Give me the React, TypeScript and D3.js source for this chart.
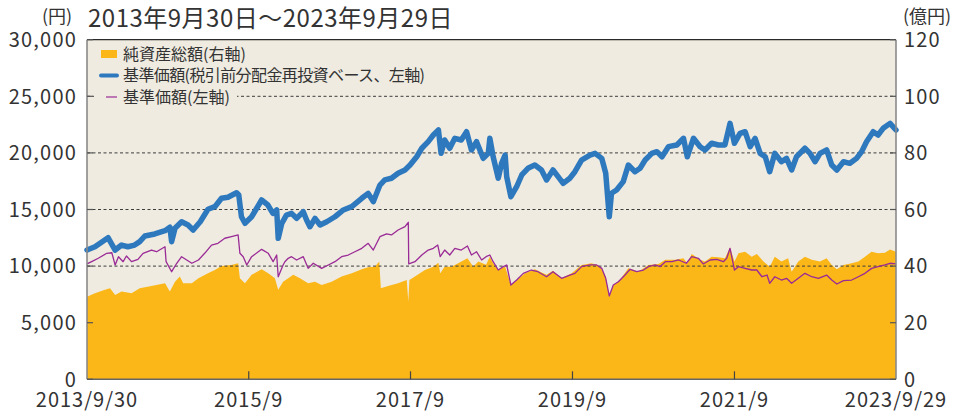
import React from "react";
import * as d3 from "d3";

// ---- Data ----
const titleText = "2013年9月30日～2023年9月29日";
const leftUnit = "(円)";
const rightUnit = "(億円)";
const legendLabels = ["純資産総額(右軸)", "基準価額(税引前分配金再投資ベース、左軸)", "基準価額(左軸)"];

const leftTicks = [0, 5000, 10000, 15000, 20000, 25000, 30000];
const rightTicks = [0, 20, 40, 60, 80, 100, 120];
const gridValues = [10000, 15000, 20000, 25000];
const xTickDates = ["2013-09-30", "2015-09-30", "2017-09-29", "2019-09-30", "2021-09-30", "2023-09-29"];
const xTickLabels = ["2013/9/30", "2015/9", "2017/9", "2019/9", "2021/9", "2023/9/29"];

// 基準価額(税引前分配金再投資ベース) — yen
const reinvestedNav: [string, number][] = [
  ["2013-09-30", 11420], ["2013-11-05", 11710], ["2014-01-03", 12510], ["2014-02-04", 11420],
  ["2014-03-05", 11860], ["2014-04-02", 11710], ["2014-05-03", 11860], ["2014-05-26", 12160],
  ["2014-06-18", 12660], ["2014-08-02", 12840], ["2014-09-17", 13130], ["2014-10-09", 13430],
  ["2014-10-17", 12160], ["2014-11-01", 13340], ["2014-12-01", 13920], ["2014-12-30", 13630],
  ["2015-01-22", 13190], ["2015-02-23", 13920], ["2015-03-30", 15020], ["2015-04-30", 15250],
  ["2015-05-30", 15990], ["2015-06-28", 16080], ["2015-08-06", 16480], ["2015-08-16", 16280],
  ["2015-08-28", 14360], ["2015-09-13", 13780], ["2015-10-13", 14360], ["2015-11-27", 15840],
  ["2015-12-25", 15400], ["2016-01-17", 14660], ["2016-02-03", 14960], ["2016-02-10", 12460],
  ["2016-02-26", 13780], ["2016-03-18", 14510], ["2016-04-10", 14660], ["2016-05-03", 14220],
  ["2016-06-02", 14810], ["2016-06-17", 14070], ["2016-07-02", 13480], ["2016-07-25", 14220],
  ["2016-08-17", 13630], ["2016-09-16", 13920], ["2016-10-23", 14360], ["2016-11-30", 14960],
  ["2017-01-07", 15250], ["2017-02-21", 15990], ["2017-03-22", 16430], ["2017-04-14", 15690],
  ["2017-05-14", 17160], ["2017-06-05", 17610], ["2017-07-05", 17760], ["2017-08-04", 18200],
  ["2017-09-04", 18490], ["2017-09-27", 18930], ["2017-10-27", 19660], ["2017-11-19", 20410],
  ["2017-12-18", 20990], ["2018-01-10", 21580], ["2018-02-02", 22020], ["2018-02-14", 19960],
  ["2018-03-02", 21140], ["2018-03-25", 20410], ["2018-04-17", 21290], ["2018-05-16", 21140],
  ["2018-06-09", 21870], ["2018-07-01", 20260], ["2018-07-24", 20990], ["2018-08-23", 19520],
  ["2018-09-15", 19960], ["2018-09-22", 21290], ["2018-10-07", 19660], ["2018-10-30", 17760],
  ["2018-11-14", 19080], ["2018-11-30", 19810], ["2018-12-07", 17900], ["2018-12-26", 16130],
  ["2019-01-21", 17010], ["2019-02-13", 18050], ["2019-03-13", 18640], ["2019-04-13", 18930],
  ["2019-05-13", 18490], ["2019-06-05", 17610], ["2019-07-04", 18490], ["2019-07-27", 17900],
  ["2019-08-19", 17310], ["2019-09-18", 17760], ["2019-10-11", 18340], ["2019-11-10", 19370],
  ["2019-12-18", 19810], ["2020-01-10", 19960], ["2020-02-09", 19520], ["2020-02-27", 18200],
  ["2020-03-14", 14360], ["2020-03-24", 16430], ["2020-04-16", 16720], ["2020-05-16", 17460],
  ["2020-06-08", 18930], ["2020-07-08", 18340], ["2020-07-31", 18640], ["2020-08-23", 19370],
  ["2020-09-22", 19960], ["2020-10-15", 20110], ["2020-11-07", 19660], ["2020-12-06", 20550],
  ["2021-01-13", 20700], ["2021-02-12", 21290], ["2021-03-01", 19660], ["2021-03-29", 21290],
  ["2021-04-28", 20550], ["2021-05-20", 20260], ["2021-06-19", 20850], ["2021-07-19", 20700],
  ["2021-08-18", 20700], ["2021-09-10", 22610], ["2021-09-30", 20850], ["2021-10-25", 21730],
  ["2021-11-17", 21870], ["2021-12-10", 20550], ["2022-01-01", 21290], ["2022-01-24", 19960],
  ["2022-02-16", 19660], ["2022-03-08", 18340], ["2022-03-31", 19960], ["2022-04-30", 19220],
  ["2022-05-23", 19520], ["2022-06-15", 18490], ["2022-07-07", 19660], ["2022-08-14", 20410],
  ["2022-09-06", 19960], ["2022-09-29", 19220], ["2022-10-21", 19960], ["2022-11-20", 20260],
  ["2022-12-13", 18930], ["2023-01-05", 18490], ["2023-02-04", 19220], ["2023-03-05", 19080],
  ["2023-04-04", 19520], ["2023-04-27", 20110], ["2023-05-19", 20990], ["2023-06-18", 21870],
  ["2023-07-10", 21580], ["2023-08-02", 22170], ["2023-09-02", 22610], ["2023-09-29", 22020],
];

// 基準価額 — yen
const nav: [string, number][] = [
  ["2013-09-30", 10190], ["2013-10-21", 10390], ["2013-11-20", 10690], ["2013-12-28", 11130],
  ["2014-01-20", 11180], ["2014-02-04", 10100], ["2014-02-19", 10830], ["2014-03-12", 10390],
  ["2014-03-27", 10890], ["2014-04-19", 10390], ["2014-05-18", 10600], ["2014-06-10", 11130],
  ["2014-07-18", 11420], ["2014-08-10", 11270], ["2014-09-17", 11710], ["2014-09-22", 10390],
  ["2014-10-17", 9505], ["2014-11-09", 10250], ["2014-12-01", 10830], ["2014-12-24", 10540],
  ["2015-01-16", 10250], ["2015-02-15", 10540], ["2015-03-15", 11130], ["2015-04-15", 11860],
  ["2015-05-14", 12010], ["2015-06-14", 12460], ["2015-07-14", 12600], ["2015-08-13", 12750],
  ["2015-08-21", 11130], ["2015-09-05", 10830], ["2015-09-21", 10100], ["2015-10-13", 10830],
  ["2015-11-27", 11480], ["2015-12-27", 11130], ["2016-01-18", 10390], ["2016-02-03", 10980],
  ["2016-02-10", 9060], ["2016-03-03", 10100], ["2016-03-11", 10390], ["2016-03-26", 10690],
  ["2016-04-10", 10830], ["2016-05-03", 10540], ["2016-06-02", 10830], ["2016-06-24", 9800],
  ["2016-07-17", 10250], ["2016-08-24", 9800], ["2016-09-23", 10100], ["2016-10-23", 10390],
  ["2016-11-22", 10830], ["2016-12-22", 10980], ["2017-01-21", 11270], ["2017-02-21", 11570],
  ["2017-03-22", 12010], ["2017-04-14", 11420], ["2017-05-14", 12600], ["2017-06-13", 12840],
  ["2017-07-05", 12750], ["2017-08-04", 13190], ["2017-09-04", 13480], ["2017-09-19", 13870],
  ["2017-09-21", 10190], ["2017-10-19", 10390], ["2017-11-19", 10980], ["2017-12-18", 11420],
  ["2018-01-10", 11570], ["2018-01-30", 11860], ["2018-02-10", 10830], ["2018-03-02", 11420],
  ["2018-03-25", 10980], ["2018-04-17", 11570], ["2018-05-16", 11420], ["2018-06-13", 11780],
  ["2018-07-01", 10980], ["2018-07-24", 11270], ["2018-08-16", 10540], ["2018-09-05", 10830],
  ["2018-09-22", 10980], ["2018-10-07", 10390], ["2018-10-30", 9655], ["2018-11-22", 9950],
  ["2018-12-07", 10100], ["2018-12-26", 8330], ["2019-01-21", 8770], ["2019-02-20", 9360],
  ["2019-03-28", 9655], ["2019-04-27", 9505], ["2019-06-05", 9060], ["2019-07-04", 9505],
  ["2019-08-12", 8920], ["2019-09-18", 9210], ["2019-10-11", 9360], ["2019-11-10", 9950],
  ["2019-12-18", 10100], ["2020-01-17", 10100], ["2020-02-09", 9800], ["2020-02-27", 8920],
  ["2020-03-14", 7360], ["2020-04-01", 8330], ["2020-04-24", 8620], ["2020-05-24", 9210],
  ["2020-06-16", 9720], ["2020-07-16", 9505], ["2020-08-15", 9655], ["2020-09-07", 9950],
  ["2020-10-07", 10100], ["2020-10-29", 9950], ["2020-11-22", 10390], ["2020-12-22", 10390],
  ["2021-01-21", 10540], ["2021-02-25", 10250], ["2021-03-21", 10830], ["2021-04-20", 10690],
  ["2021-05-12", 10190], ["2021-06-12", 10540], ["2021-07-12", 10600], ["2021-08-11", 10390],
  ["2021-08-26", 10690], ["2021-09-10", 11570], ["2021-09-30", 9655], ["2021-10-18", 9950],
  ["2021-11-17", 9800], ["2021-12-17", 9655], ["2022-01-09", 9655], ["2022-02-01", 9060],
  ["2022-02-24", 9210], ["2022-03-08", 8480], ["2022-03-31", 9060], ["2022-04-30", 8770],
  ["2022-05-23", 8920], ["2022-06-15", 8480], ["2022-07-15", 8920], ["2022-08-14", 9360],
  ["2022-09-14", 9060], ["2022-10-14", 8920], ["2022-11-20", 9210], ["2022-12-13", 8770],
  ["2023-01-05", 8420], ["2023-02-04", 8710], ["2023-03-13", 8770], ["2023-04-12", 9060],
  ["2023-05-12", 9360], ["2023-06-11", 9800], ["2023-07-10", 9950], ["2023-08-10", 10100],
  ["2023-09-02", 10250], ["2023-09-29", 10190],
];

// 純資産総額 — 億円
const netAssets: [string, number][] = [
  ["2013-09-30", 29.2], ["2013-11-05", 30.4], ["2013-12-20", 31.6], ["2014-01-12", 32.2],
  ["2014-02-04", 29.8], ["2014-03-05", 31.0], ["2014-04-19", 30.4], ["2014-05-26", 32.2],
  ["2014-07-18", 33.0], ["2014-09-17", 33.9], ["2014-10-09", 31.0], ["2014-11-01", 34.5],
  ["2014-11-23", 36.3], ["2014-12-08", 33.9], ["2015-01-16", 33.9], ["2015-02-15", 35.7],
  ["2015-03-30", 37.5], ["2015-04-30", 38.6], ["2015-05-30", 40.0], ["2015-07-14", 40.4],
  ["2015-08-13", 41.0], ["2015-08-21", 35.7], ["2015-09-13", 33.9], ["2015-10-13", 36.9],
  ["2015-11-27", 38.9], ["2015-12-27", 37.5], ["2016-01-26", 35.7], ["2016-02-10", 31.6],
  ["2016-03-03", 34.5], ["2016-03-26", 35.7], ["2016-04-18", 36.9], ["2016-05-18", 35.7],
  ["2016-06-24", 33.9], ["2016-07-25", 34.5], ["2016-08-24", 33.3], ["2016-10-08", 34.5],
  ["2016-11-22", 36.3], ["2017-01-07", 37.5], ["2017-02-21", 38.9], ["2017-03-22", 39.6],
  ["2017-04-21", 39.8], ["2017-05-11", 41.6], ["2017-05-18", 32.2], ["2017-06-20", 33.0],
  ["2017-08-04", 33.9], ["2017-09-12", 35.1], ["2017-09-19", 27.4], ["2017-09-24", 35.1],
  ["2017-10-19", 36.3], ["2017-12-03", 38.6], ["2018-01-10", 39.8], ["2018-02-02", 41.2],
  ["2018-02-10", 37.5], ["2018-03-02", 39.8], ["2018-04-02", 39.8], ["2018-05-02", 41.0],
  ["2018-06-13", 42.8], ["2018-07-09", 39.8], ["2018-08-01", 41.6], ["2018-09-05", 40.5],
  ["2018-09-22", 43.3], ["2018-10-07", 41.0], ["2018-10-30", 38.9], ["2018-11-30", 39.8],
  ["2018-12-26", 33.3], ["2019-01-21", 35.1], ["2019-02-28", 37.5], ["2019-04-13", 38.9],
  ["2019-06-05", 36.9], ["2019-07-04", 38.4], ["2019-08-12", 35.7], ["2019-09-26", 37.5],
  ["2019-11-10", 40.4], ["2019-12-25", 41.0], ["2020-02-01", 40.0], ["2020-02-27", 36.3],
  ["2020-03-14", 29.2], ["2020-04-01", 33.3], ["2020-05-01", 35.1], ["2020-06-08", 39.2],
  ["2020-07-23", 38.0], ["2020-09-07", 40.4], ["2020-10-22", 40.7], ["2020-11-22", 42.2],
  ["2021-01-05", 42.2], ["2021-02-12", 42.8], ["2021-03-01", 41.0], ["2021-03-21", 44.3],
  ["2021-04-28", 42.2], ["2021-05-20", 41.6], ["2021-06-19", 43.3], ["2021-07-19", 43.1],
  ["2021-08-18", 42.8], ["2021-09-10", 46.6], ["2021-09-30", 41.6], ["2021-10-18", 44.5],
  ["2021-11-17", 45.1], ["2021-12-17", 43.3], ["2022-01-09", 44.3], ["2022-02-08", 41.6],
  ["2022-03-08", 39.8], ["2022-03-31", 43.3], ["2022-04-30", 41.6], ["2022-05-30", 42.8],
  ["2022-06-15", 38.0], ["2022-07-15", 41.6], ["2022-08-14", 43.3], ["2022-09-14", 42.2],
  ["2022-10-21", 41.6], ["2022-11-20", 42.8], ["2022-12-13", 40.4], ["2023-01-05", 38.9],
  ["2023-02-04", 40.4], ["2023-03-13", 41.0], ["2023-04-12", 41.6], ["2023-05-12", 43.3],
  ["2023-06-11", 45.1], ["2023-07-10", 44.5], ["2023-08-10", 44.7], ["2023-09-02", 45.9],
  ["2023-09-29", 45.1],
];

// ---- Layout / style ----
const W = 958;
const H = 412;
const M = { left: 87, right: 896, top: 39.7, bottom: 379.3 };
const C = {
  bg: "#efebe1",
  area: "#fbb618",
  blue: "#2e78be",
  purple: "#9a2a96",
  grid: "#3c3c3c",
  text: "#333333",
  axis: "#8a8a8a",
};
const FONT = "'Noto Sans CJK JP', 'Noto Sans', sans-serif";

const parse = d3.timeParse("%Y-%m-%d");

export default function App() {
  const x = d3
    .scaleTime()
    .domain([parse("2013-09-30") as Date, parse("2023-09-29") as Date])
    .range([M.left, M.right]);
  const yL = d3.scaleLinear().domain([0, 30000]).range([M.bottom, M.top]);
  const yR = d3.scaleLinear().domain([0, 120]).range([M.bottom, M.top]);

  const areaGen = d3
    .area<[string, number]>()
    .x((d) => x(parse(d[0]) as Date))
    .y0(M.bottom)
    .y1((d) => yR(d[1]));
  const lineGen = d3
    .line<[string, number]>()
    .x((d) => x(parse(d[0]) as Date))
    .y((d) => yL(d[1]));

  const fmt = d3.format(",");

  return (
    <svg
      width={W}
      height={H}
      style={{ position: "absolute", left: 0, top: 0, fontFamily: FONT }}
    >
      <rect x={0} y={0} width={W} height={H} fill="#ffffff" />
      {/* Title & units */}
      <text x={42} y={23} fontSize={18} fill={C.text}>
        {leftUnit}
      </text>
      <text x={88} y={27} fontSize={24} fill={C.text} letterSpacing={0.5}>
        {titleText}
      </text>
      <text x={903} y={23} fontSize={18} fill={C.text}>
        {rightUnit}
      </text>

      {/* Plot background */}
      <rect
        x={M.left}
        y={M.top}
        width={M.right - M.left}
        height={M.bottom - M.top}
        fill={C.bg}
      />

      {/* Net assets area */}
      <path d={areaGen(netAssets) || ""} fill={C.area} />

      {/* Grid lines */}
      {gridValues.map((v) => (
        <line
          key={v}
          x1={M.left}
          x2={M.right}
          y1={yL(v)}
          y2={yL(v)}
          stroke={C.grid}
          strokeWidth={1}
          strokeDasharray="3,2.5"
        />
      ))}

      {/* Lines */}
      <path d={lineGen(nav) || ""} fill="none" stroke={C.purple} strokeWidth={1.3} strokeLinejoin="round" />
      <path
        d={lineGen(reinvestedNav) || ""}
        fill="none"
        stroke={C.blue}
        strokeWidth={5.5}
        strokeLinejoin="round"
        strokeLinecap="round"
      />

      {/* Frame */}
      <line x1={M.left} x2={M.right} y1={M.top} y2={M.top} stroke="#2a2a2a" strokeWidth={1.2} />
      <line x1={M.left} x2={M.left} y1={M.top} y2={M.bottom} stroke={C.axis} strokeWidth={1.6} />
      <line x1={M.right} x2={M.right} y1={M.top} y2={M.bottom} stroke={C.axis} strokeWidth={1.6} />
      <line x1={M.left} x2={M.right} y1={M.bottom} y2={M.bottom} stroke="#666" strokeWidth={1.4} />

      {/* Left axis ticks and labels */}
      {leftTicks.map((v) => (
        <g key={"l" + v}>
          <line x1={M.left} x2={M.left + 6} y1={yL(v)} y2={yL(v)} stroke="#555" strokeWidth={1.2} />
          <text
            x={77}
            y={yL(v)}
            dy="0.36em"
            textAnchor="end"
            fontSize={20}
            fill={C.text}
            letterSpacing={1.2}
          >
            {fmt(v)}
          </text>
        </g>
      ))}

      {/* Right axis ticks and labels */}
      {rightTicks.map((v) => (
        <g key={"r" + v}>
          <line x1={M.right - 6} x2={M.right} y1={yR(v)} y2={yR(v)} stroke="#555" strokeWidth={1.2} />
          <text x={904} y={yR(v)} dy="0.36em" fontSize={20} fill={C.text} letterSpacing={1.2}>
            {v}
          </text>
        </g>
      ))}

      {/* X axis ticks and labels */}
      {xTickDates.map((d, i) => {
        const xp = x(parse(d) as Date);
        return (
          <g key={d}>
            {i > 0 && i < xTickDates.length - 1 && (
              <line x1={xp} x2={xp} y1={M.bottom} y2={M.bottom - 8} stroke="#444" strokeWidth={1.2} />
            )}
            <text x={xp} y={407} textAnchor="middle" fontSize={20} fill={C.text} letterSpacing={1}>
              {xTickLabels[i]}
            </text>
          </g>
        );
      })}

      {/* Legend */}
      <rect x={94} y={87} width={143} height={20} fill={C.bg} />
      <rect x={101} y={50} width={16} height={8} fill={C.area} />
      <text x={123} y={59.5} fontSize={16} fill={C.text}>
        {legendLabels[0]}
      </text>
      <line x1={101} x2={117} y1={75.5} y2={75.5} stroke={C.blue} strokeWidth={4} strokeLinecap="round" />
      <text x={123} y={81} fontSize={16} fill={C.text} letterSpacing={-0.6}>
        {legendLabels[1]}
      </text>
      <line x1={106} x2={117} y1={97} y2={97} stroke={C.purple} strokeWidth={1.2} />
      <text x={123} y={102.5} fontSize={16} fill={C.text}>
        {legendLabels[2]}
      </text>
    </svg>
  );
}
